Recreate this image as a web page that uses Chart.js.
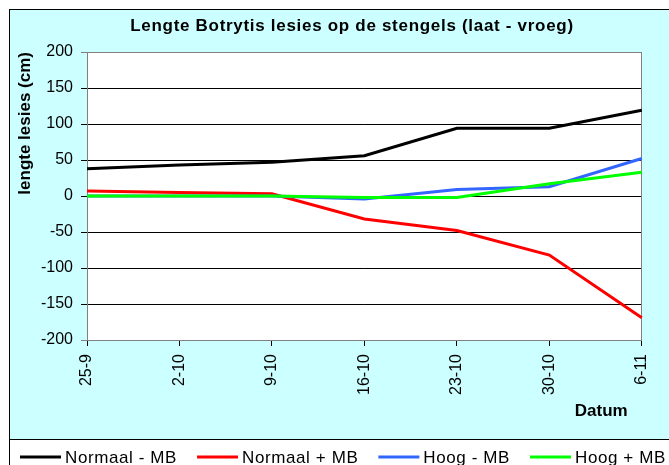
<!DOCTYPE html>
<html lang="nl">
<head>
  <meta charset="UTF-8">
  <title>Lengte Botrytis lesies op de stengels</title>
  <script src="https://cdn.jsdelivr.net/npm/chart.js"></script>
  <style>
    * { margin: 0; padding: 0; box-sizing: border-box; }
    body { background: #ffffff; width: 669px; height: 465px; overflow: hidden; }
    #chart { display: block; }
  </style>
</head>
<body>
  <canvas id="chart" width="669" height="465"></canvas>

  <script>
    // data
    const dates = ['25-9', '2-10', '9-10', '16-10', '23-10', '30-10', '6-11'];
    const normaalMin = [38, 43, 47, 56, 94, 94, 119];
    const normaalPlus = [7, 5, 3, -32, -48, -82, -169];
    const hoogMin = [0, 0, 0, -4, 9, 13, 52];
    const hoogPlus = [0, 0, 0, -2, -2, 17, 33];
    const yTicks = [-200, -150, -100, -50, 0, 50, 100, 150, 200];

    const FONT = "'Liberation Sans', Arial, sans-serif";
    const titleText = 'Lengte Botrytis lesies op de stengels (laat - vroeg)';

    // background frame, title and legend (Excel style)
    const decor = {
      id: 'decor',
      beforeDraw(chart) {
        const ctx = chart.ctx;
        const a = chart.chartArea;
        ctx.save();
        ctx.fillStyle = '#ffffff';
        ctx.fillRect(0, 0, chart.width, chart.height);
        ctx.fillStyle = '#ccffff';
        ctx.fillRect(10, 10, 700, 430);
        ctx.strokeStyle = '#000';
        ctx.lineWidth = 1;
        ctx.strokeRect(9.5, 9.5, 700, 430);
        ctx.fillStyle = '#ffffff';
        ctx.fillRect(10, 440, 700, 40);
        ctx.strokeRect(9.5, 439.5, 700, 40);
        ctx.fillStyle = '#ffffff';
        ctx.fillRect(a.left, a.top, a.right - a.left, a.bottom - a.top);
        ctx.restore();
      },
      beforeDatasetsDraw(chart) {
        const ctx = chart.ctx;
        const a = chart.chartArea;
        ctx.save();
        ctx.strokeStyle = '#808080';
        ctx.lineWidth = 1;
        ctx.strokeRect(Math.round(a.left) + 0.5, Math.round(a.top) + 0.5,
          Math.round(a.right - a.left) - 1, Math.round(a.bottom - a.top));
        ctx.restore();
      },
      afterDraw(chart) {
        const ctx = chart.ctx;
        ctx.save();
        ctx.fillStyle = '#000';
        ctx.font = 'bold 17px ' + FONT;
        ctx.letterSpacing = '0.7px';
        ctx.textAlign = 'center';
        ctx.textBaseline = 'middle';
        ctx.fillText(titleText, 352, 26);

        // legend
        ctx.font = '17px ' + FONT;
        ctx.letterSpacing = '0.6px';
        ctx.textAlign = 'left';
        let x = 20;
        const y = 457;
        chart.data.datasets.forEach(ds => {
          ctx.strokeStyle = ds.borderColor;
          ctx.lineWidth = 3;
          ctx.beginPath();
          ctx.moveTo(x, y);
          ctx.lineTo(x + 41, y);
          ctx.stroke();
          ctx.fillStyle = '#000';
          ctx.fillText(ds.label, x + 45, y + 1);
          x += 45 + ctx.measureText(ds.label).width + 20;
        });
        ctx.restore();
      }
    };

    new Chart(document.getElementById('chart'), {
      type: 'line',
      data: {
        labels: dates,
        datasets: [
          { label: 'Normaal - MB', data: normaalMin, borderColor: '#000000', order: 3 },
          { label: 'Normaal + MB', data: normaalPlus, borderColor: '#ff0000', order: 2 },
          { label: 'Hoog - MB', data: hoogMin, borderColor: '#3366ff', order: 1 },
          { label: 'Hoog + MB', data: hoogPlus, borderColor: '#00ff00', order: 0 }
        ]
      },
      options: {
        responsive: false,
        animation: false,
        devicePixelRatio: 1,
        elements: {
          line: { borderWidth: 3, tension: 0, fill: false },
          point: { radius: 0, hoverRadius: 0 }
        },
        layout: { padding: { left: 10, top: 52, right: 23, bottom: 40 } },
        plugins: {
          legend: { display: false },
          title: { display: false },
          tooltip: { enabled: false }
        },
        scales: {
          x: {
            offset: false,
            afterFit(scale) { scale.height = 85; },
            grid: { drawOnChartArea: false, drawTicks: true, tickLength: 6, color: '#000' },
            border: { color: '#808080' },
            ticks: {
              color: '#000', minRotation: 90, maxRotation: 90, padding: 8,
              autoSkip: false, font: { family: FONT, size: 16 }
            },
            title: {
              display: true, text: 'Datum   ', align: 'end', color: '#000',
              font: { family: FONT, size: 17, weight: 'bold' }, padding: { top: 0, bottom: 3 }
            }
          },
          y: {
            min: yTicks[0],
            max: yTicks[yTicks.length - 1],
            afterFit(scale) { scale.width = 77; },
            afterBuildTicks(scale) { scale.ticks = yTicks.map(v => ({ value: v })); },
            grid: {
              tickLength: 6,
              color: ctx => (Math.abs(ctx.tick.value) === 200 ? '#808080' : '#000')
            },
            border: { color: '#808080' },
            ticks: { color: '#000', padding: 8, font: { family: FONT, size: 16 } },
            title: {
              display: true, text: 'lengte lesies (cm)', align: 'end', color: '#000',
              font: { family: FONT, size: 17, weight: 'bold' }, padding: { top: 5, bottom: 0 }
            }
          }
        }
      },
      plugins: [decor]
    });
  </script>
</body>
</html>
